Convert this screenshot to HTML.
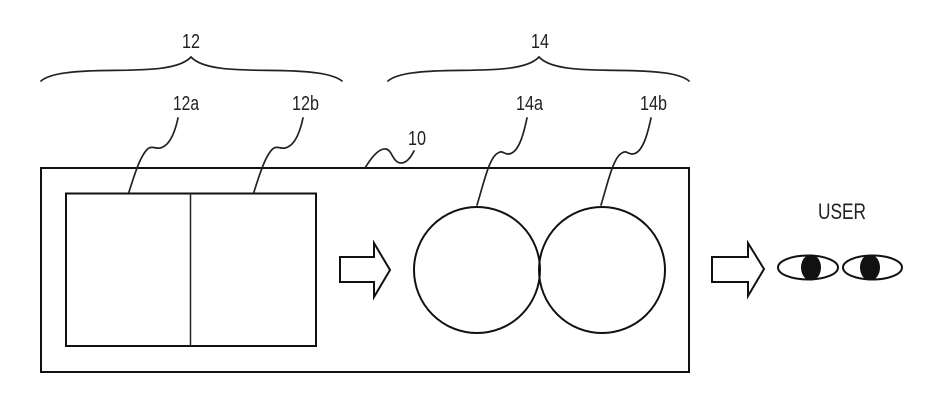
<!DOCTYPE html>
<html>
<head>
<meta charset="utf-8">
<style>
html,body{margin:0;padding:0;background:#fff;}
svg{display:block;}
text{font-family:"Liberation Sans",sans-serif;fill:#222;font-size:20px;}
.s{fill:none;stroke:#111;stroke-width:2;}
.t{fill:none;stroke:#222;stroke-width:1.7;stroke-linecap:round;}
</style>
</head>
<body>
<svg width="942" height="412" viewBox="0 0 942 412" xmlns="http://www.w3.org/2000/svg">
<rect width="942" height="412" fill="#fff"/>

<!-- braces -->
<path class="t" d="M41 81 C50 73 75 71 105 70.5 C140 70 178 71 191 57 C204 71 242 70 277 70.5 C307 71 332 73 342 81"/>
<path class="t" d="M388 81 C397 73 422 71 452 70.5 C487 70 526 71 539 57 C552 71 590 70 625 70.5 C655 71 680 73 689 81"/>

<!-- labels -->
<text x="182" y="48" textLength="18" lengthAdjust="spacingAndGlyphs">12</text>
<text x="531" y="48" textLength="18" lengthAdjust="spacingAndGlyphs">14</text>
<text x="173" y="110" textLength="26" lengthAdjust="spacingAndGlyphs">12a</text>
<text x="292" y="110" textLength="27" lengthAdjust="spacingAndGlyphs">12b</text>
<text x="516" y="110" textLength="27" lengthAdjust="spacingAndGlyphs">14a</text>
<text x="640" y="110" textLength="27" lengthAdjust="spacingAndGlyphs">14b</text>
<text x="408" y="145" textLength="18" lengthAdjust="spacingAndGlyphs">10</text>
<text x="818" y="219" font-size="22" style="font-size:22px" textLength="48" lengthAdjust="spacingAndGlyphs">USER</text>

<!-- main frame -->
<rect class="s" x="41" y="168" width="648" height="204"/>
<rect class="s" x="66" y="193.500" width="250" height="152.500"/>
<line x1="190.500" y1="193" x2="190.500" y2="346" stroke="#222" stroke-width="1.500"/>

<!-- circles -->
<circle class="s" cx="477" cy="270" r="63"/>
<circle class="s" cx="602" cy="270" r="63"/>

<!-- leaders -->
<path class="t" d="M178 118 C175 132 170 146 160 148 C156 149 153 146 149 148 C141 153 134 176 129 192"/>
<path class="t" d="M303 118 C300 132 295 146 285 148 C281 149 278 146 274 148 C266 153 259 176 254 192"/>
<path class="t" d="M527 118 C524 132 519 154 508 154 C504 154 502 150 498 153 C489 157 483 186 477 205"/>
<path class="t" d="M651 118 C648 132 643 154 632 154 C628 154 626 150 622 153 C613 157 607 186 601 205"/>
<path class="t" d="M365 168 C371 158 379 148 386 149 C392 150 393 163 401 163 C407 163 411 157 414 151"/>

<!-- arrows -->
<path class="s" d="M340 257 H374 V243 L390 270 L374 297 V282 H340 Z"/>
<path class="s" d="M712 257 H748 V243 L764 269 L748 296 V282 H712 Z"/>

<!-- eyes -->
<ellipse class="s" cx="808" cy="267.500" rx="30" ry="12"/>
<ellipse cx="811" cy="267.500" rx="10" ry="13" fill="#111"/>
<ellipse class="s" cx="872.500" cy="267.500" rx="29.500" ry="12"/>
<ellipse cx="870" cy="267.500" rx="10" ry="13" fill="#111"/>
</svg>
</body>
</html>
